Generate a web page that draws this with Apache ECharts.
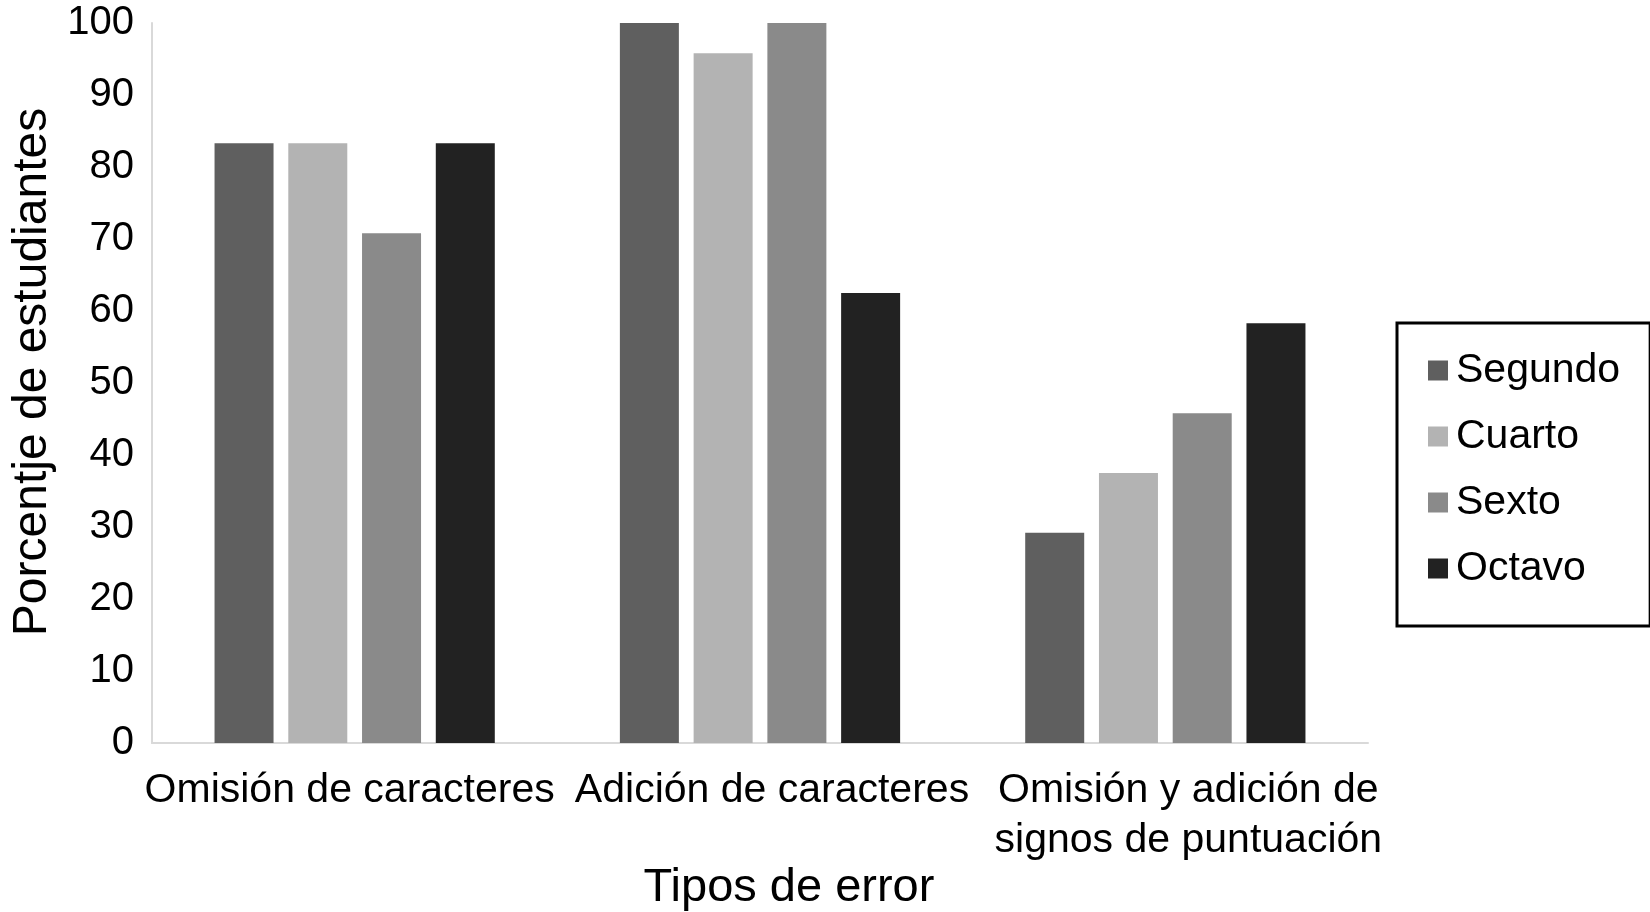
<!DOCTYPE html>
<html>
<head>
<meta charset="utf-8">
<script src="https://cdn.jsdelivr.net/npm/echarts@6/dist/echarts.min.js"></script>
<style>
html,body{margin:0;padding:0;background:#fff;}
#chart{width:1650px;height:912px;}
</style>
</head>
<body>
<div id="chart"></div>
<script>
const categories = ['Omisión de caracteres', 'Adición de caracteres', 'Omisión y adición de\nsignos de puntuación'];
const seriesNames = ['Segundo', 'Cuarto', 'Sexto', 'Octavo'];
const segundo = [83.3, 100, 29.2];
const cuarto = [83.3, 95.8, 37.5];
const sexto = [70.8, 100, 45.8];
const octavo = [83.3, 62.5, 58.3];
const yTicks = { min: 0, max: 100, interval: 10 };
const xTitle = 'Tipos de error';
const yTitle = 'Porcentje de estudiantes';

const colors = ['#5f5f5f', '#b3b3b3', '#8a8a8a', '#222222'];
const values = [segundo, cuarto, sexto, octavo];
const FONT = '"Liberation Sans", Arial, Helvetica, sans-serif';

const labelBase = { fontFamily: FONT, fontSize: 41, lineHeight: 50, color: '#000' };
const labelRich = {
  c0: Object.assign({}, labelBase, { padding: [0, 10, 0, 0] }),
  c1: Object.assign({}, labelBase, { padding: [0, 0, 0, 24] }),
  c2: Object.assign({}, labelBase, { padding: [0, 0, 0, 46] })
};

const chart = echarts.init(document.getElementById('chart'), null, { renderer: 'canvas' });
chart.setOption({
  animation: false,
  backgroundColor: '#ffffff',
  textStyle: { fontFamily: FONT, color: '#000' },
  grid: { left: 152, right: 282, top: 23, bottom: 169, containLabel: false, outerBoundsMode: 'none' },
  legend: {
    orient: 'vertical',
    left: 1397,
    top: 323,
    data: seriesNames,
    icon: 'rect',
    itemWidth: 20,
    itemHeight: 20,
    itemGap: 25,
    padding: [27, 30, 37, 31],
    borderColor: '#000',
    borderWidth: 3,
    textStyle: { fontFamily: FONT, fontSize: 41, color: '#000', padding: [0, 0, 0, 3] }
  },
  xAxis: {
    type: 'category',
    data: categories,
    name: xTitle,
    nameLocation: 'middle',
    nameGap: 122,
    nameMoveOverlap: false,
    nameTextStyle: { fontFamily: FONT, fontSize: 47, color: '#000', padding: [0, 0, 0, 58] },
    axisLine: { show: true, lineStyle: { color: '#d9d9d9', width: 2 } },
    axisTick: { show: false },
    axisLabel: {
      interval: 0,
      margin: 23,
      fontFamily: FONT,
      fontSize: 41,
      lineHeight: 50,
      color: '#000',
      overflow: 'none',
      formatter: function (value, index) {
        return value.split('\n').map(function (line) { return '{c' + index + '|' + line + '}'; }).join('\n');
      },
      rich: labelRich
    },
    splitLine: { show: false }
  },
  yAxis: {
    type: 'value',
    min: yTicks.min,
    max: yTicks.max,
    interval: yTicks.interval,
    name: yTitle,
    nameLocation: 'middle',
    nameRotate: 90,
    nameGap: 95,
    nameMoveOverlap: false,
    nameTextStyle: { fontFamily: FONT, fontSize: 48, color: '#000', padding: [0, 0, 0, 22] },
    axisLine: { show: true, lineStyle: { color: '#d9d9d9', width: 2 } },
    axisTick: { show: false },
    axisLabel: { margin: 18, fontFamily: FONT, fontSize: 40, color: '#000' },
    splitLine: { show: false }
  },
  series: seriesNames.map((name, i) => ({
    name: name,
    type: 'bar',
    data: values[i],
    barWidth: 59,
    barGap: '25%',
    itemStyle: { color: colors[i] }
  }))
});
</script>
</body>
</html>
